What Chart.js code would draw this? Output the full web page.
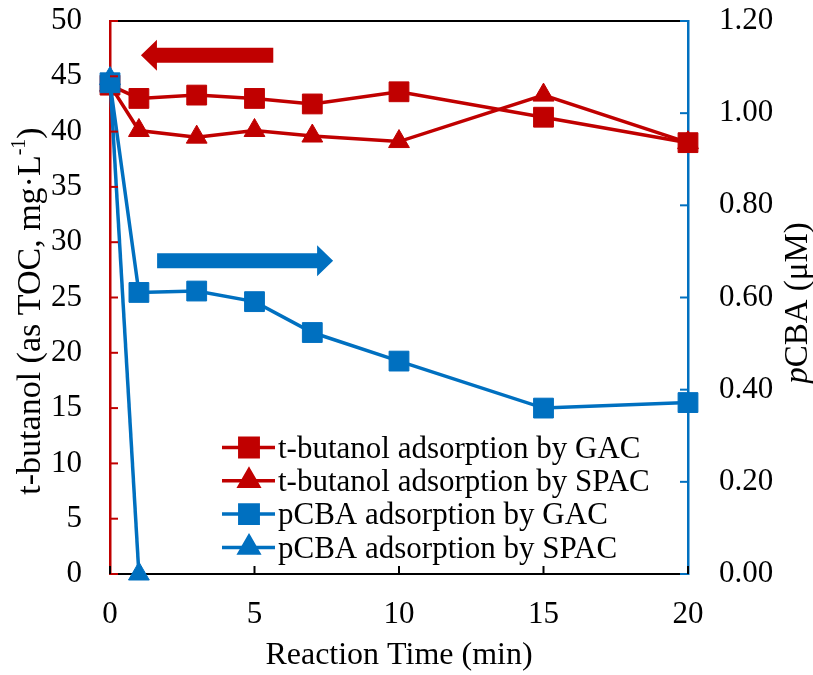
<!DOCTYPE html>
<html>
<head>
<meta charset="utf-8">
<script src="https://cdn.jsdelivr.net/npm/chart.js@4/dist/chart.umd.min.js"></script>
<style>
  html, body { margin: 0; padding: 0; background: #fff; }
  #wrap { width: 813px; height: 675px; }
</style>
</head>
<body>
<div id="wrap"><canvas id="c" width="813" height="675"></canvas></div>
<script>
// data
const times = [0, 1, 3, 5, 7, 10, 15, 20];
const tbGAC = [44.2, 43.0, 43.3, 43.0, 42.5, 43.6, 41.3, 39.0];
const tbSPAC = [44.2, 40.1, 39.5, 40.1, 39.6, 39.1, 43.3, 39.0];
const pcbaGAC = [1.066, 0.611, 0.614, 0.591, 0.524, 0.462, 0.360, 0.372];
const spacTimes = [0, 1];
const pcbaSPAC = [1.075, 0];
const seriesNames = ['t-butanol adsorption by GAC', 't-butanol adsorption by SPAC', 'pCBA adsorption by GAC', 'pCBA adsorption by SPAC'];
const leftTicks = [0, 5, 10, 15, 20, 25, 30, 35, 40, 45, 50];
const rightTicks = [0, 0.2, 0.4, 0.6, 0.8, 1.0, 1.2];
const xTicks = [0, 5, 10, 15, 20];

const RED = '#C00000', BLUE = '#0070C0';
const FONT = '"Liberation Serif", "Times New Roman", serif';
const FS = 31;

const pts = (xs, ys) => xs.map((x, i) => ({ x, y: ys[i] }));

const mk = (label, data, color, style, axis, order) => ({
  label, data, yAxisID: axis, order,
  borderColor: color, backgroundColor: color, borderWidth: 3.5,
  pointStyle: style, pointRadius: style === 'rect' ? 14 : 12, pointBorderWidth: 1,
  pointHoverRadius: style === 'rect' ? 14 : 12,
  tension: 0, clip: false
});

// fixed axis box sizes, no extra label padding around the plot
const fixSize = (w, h) => s => {
  if (w != null) s.width = w;
  if (h != null) s.height = h;
  s.paddingTop = 0; s.paddingBottom = 0; s.paddingLeft = 0; s.paddingRight = 0;
};

// arrows, titles, inward ticks, top border, legend
const decor = {
  id: 'decor',
  afterDraw(chart) {
    const { ctx, chartArea: a, scales } = chart;
    const x = scales.x, yl = scales.y, yr = scales.y2;
    ctx.save();

    // top border
    ctx.strokeStyle = '#000'; ctx.lineWidth = 2;
    ctx.beginPath(); ctx.moveTo(a.left, a.top); ctx.lineTo(a.right, a.top); ctx.stroke();

    // inward ticks
    ctx.lineWidth = 2;
    ctx.strokeStyle = RED;
    leftTicks.forEach(v => { const p = yl.getPixelForValue(v); ctx.beginPath(); ctx.moveTo(a.left, p); ctx.lineTo(a.left + 8, p); ctx.stroke(); });
    ctx.strokeStyle = BLUE;
    rightTicks.forEach(v => { const p = yr.getPixelForValue(v); ctx.beginPath(); ctx.moveTo(a.right, p); ctx.lineTo(a.right - 8, p); ctx.stroke(); });
    ctx.strokeStyle = '#000';
    xTicks.forEach(v => { const p = x.getPixelForValue(v); ctx.beginPath(); ctx.moveTo(p, a.bottom); ctx.lineTo(p, a.bottom - 8); ctx.stroke(); });

    // arrows
    const arrow = (x0, x1, y, color) => {
      const dir = Math.sign(x1 - x0), head = 16, bh = 7.5, hh = 15.5;
      ctx.fillStyle = color;
      ctx.beginPath();
      ctx.moveTo(x0, y - bh); ctx.lineTo(x1 - dir * head, y - bh); ctx.lineTo(x1 - dir * head, y - hh);
      ctx.lineTo(x1, y); ctx.lineTo(x1 - dir * head, y + hh); ctx.lineTo(x1 - dir * head, y + bh);
      ctx.lineTo(x0, y + bh); ctx.closePath(); ctx.fill();
    };
    arrow(x.getPixelForValue(5.65), x.getPixelForValue(1.07), yl.getPixelForValue(46.9), RED);
    arrow(x.getPixelForValue(1.63), x.getPixelForValue(7.72), yr.getPixelForValue(0.68), BLUE);

    // axis titles
    ctx.fillStyle = '#000';
    ctx.font = '32px ' + FONT;
    ctx.textAlign = 'center'; ctx.textBaseline = 'middle';
    ctx.fillText('Reaction Time (min)', 399, 656);

    ctx.save();
    ctx.translate(31, 311);
    ctx.rotate(-Math.PI / 2);
    const t1 = 't-butanol (as TOC, mg\u00B7L', sup = '-1', t2 = ')';
    ctx.font = '34px ' + FONT;
    const w1 = ctx.measureText(t1).width, w3 = ctx.measureText(t2).width;
    ctx.font = '20px ' + FONT;
    const w2 = ctx.measureText(sup).width;
    let sx = -(w1 + w2 + w3) / 2;
    ctx.textAlign = 'left';
    ctx.font = '34px ' + FONT; ctx.fillText(t1, sx, 0); sx += w1;
    ctx.font = '20px ' + FONT; ctx.fillText(sup, sx, -11); sx += w2;
    ctx.font = '34px ' + FONT; ctx.fillText(t2, sx, 0);
    ctx.restore();

    ctx.save();
    ctx.translate(798, 303);
    ctx.rotate(-Math.PI / 2);
    ctx.font = 'italic 33px ' + FONT;
    const wp = ctx.measureText('p').width;
    ctx.font = '33px ' + FONT;
    const wr = ctx.measureText('CBA (\u03BCM)').width;
    ctx.textAlign = 'left';
    ctx.font = 'italic 33px ' + FONT; ctx.fillText('p', -(wp + wr) / 2, 0);
    ctx.font = '33px ' + FONT; ctx.fillText('CBA (\u03BCM)', -(wp + wr) / 2 + wp, 0);
    ctx.restore();

    // legend
    ctx.font = FS + 'px ' + FONT; ctx.textAlign = 'left'; ctx.textBaseline = 'middle';
    chart.data.datasets.forEach((ds, i) => {
      const ly = 447.5 + i * 33.3;
      ctx.strokeStyle = ds.borderColor; ctx.lineWidth = 3.5;
      ctx.beginPath(); ctx.moveTo(222, ly); ctx.lineTo(275, ly); ctx.stroke();
      ctx.fillStyle = ds.backgroundColor;
      Chart.helpers.drawPoint(ctx, { pointStyle: ds.pointStyle, radius: ds.pointStyle === 'rect' ? 13 : 11, rotation: 0, borderWidth: 1 }, 249, ly);
      ctx.fill();
      ctx.fillStyle = '#000';
      ctx.fillText(seriesNames[i], 278, ly + 2);
    });
    ctx.restore();
  }
};

new Chart(document.getElementById('c'), {
  type: 'line',
  data: {
    datasets: [
      mk(seriesNames[0], pts(times, tbGAC), RED, 'rect', 'y', 2),
      mk(seriesNames[1], pts(times, tbSPAC), RED, 'triangle', 'y', 3),
      mk(seriesNames[2], pts(times, pcbaGAC), BLUE, 'rect', 'y2', 0),
      mk(seriesNames[3], pts(spacTimes, pcbaSPAC), BLUE, 'triangle', 'y2', 1)
    ]
  },
  options: {
    responsive: false,
    animation: false,
    events: [],
    layout: { padding: { top: 21, left: 0, right: 0, bottom: 0 } },
    plugins: { legend: { display: false }, tooltip: { enabled: false } },
    scales: {
      x: {
        type: 'linear', min: 0, max: 20,
        ticks: { stepSize: 5, padding: 22, color: '#000', font: { family: FONT, size: FS } },
        grid: { display: false, drawTicks: false },
        border: { color: '#000', width: 2 },
        afterFit: fixSize(null, 101)
      },
      y: {
        position: 'left', min: 0, max: 50,
        ticks: { stepSize: 5, padding: 28, color: '#000', font: { family: FONT, size: FS } },
        grid: { display: false, drawTicks: false },
        border: { color: RED, width: 2.5 },
        afterFit: fixSize(110, null)
      },
      y2: {
        position: 'right', min: 0, max: 1.2,
        ticks: { stepSize: 0.2, padding: 31, color: '#000', font: { family: FONT, size: FS }, callback: v => Number(v).toFixed(2) },
        grid: { display: false, drawTicks: false },
        border: { color: BLUE, width: 2.5 },
        afterFit: fixSize(125, null)
      }
    }
  },
  plugins: [decor]
});
</script>
</body>
</html>
